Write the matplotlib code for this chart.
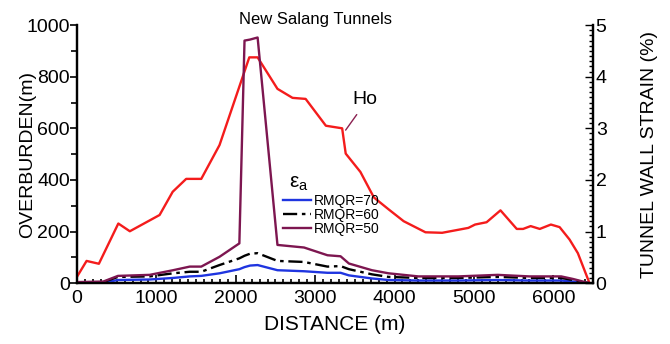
import numpy as np
import matplotlib
matplotlib.use("Agg")
from matplotlib import pyplot as plt
from matplotlib.ticker import MultipleLocator

plt.rcParams['font.family'] = ['Liberation Sans', 'DejaVu Sans']

# overburden along the tunnel (m)
ho_dist = [0, 120, 275, 520, 665, 1040, 1205, 1375, 1565, 1795, 2170, 2275, 2525, 2715, 2880,
           3135, 3340, 3385, 3570, 3740, 3925, 4115, 4390, 4600, 4930, 5015, 5160, 5335,
           5540, 5620, 5715, 5830, 5970, 6080, 6205, 6310, 6450]
ho = [25, 86, 75, 231, 201, 264, 354, 404, 404, 535, 875, 875, 753, 718, 714,
      610, 600, 502, 431, 332, 286, 240, 197, 195, 214, 227, 236, 282,
      210, 210, 221, 210, 227, 217, 169, 116, 5]

# tunnel wall strain (%) for three rock mass qualities
eps_dist = [0, 330, 515, 915, 1210, 1420, 1565, 1795, 2045, 2110, 2180, 2275, 2525, 2860,
            3155, 3320, 3425, 3715, 3925, 4300, 4800, 5300, 5700, 6100, 6250, 6450]
eps_50 = [0.02, 0.03, 0.14, 0.16, 0.25, 0.32, 0.32, 0.51, 0.77, 4.70, 4.72, 4.76, 0.74, 0.69,
          0.54, 0.52, 0.38, 0.25, 0.19, 0.13, 0.13, 0.16, 0.13, 0.13, 0.08, 0.0]
eps_60 = [0.01, 0.02, 0.12, 0.13, 0.19, 0.22, 0.22, 0.35, 0.48, 0.53, 0.57, 0.58, 0.43, 0.41,
          0.32, 0.33, 0.27, 0.17, 0.12, 0.10, 0.10, 0.12, 0.10, 0.10, 0.06, 0.0]
eps_70 = [0.0, 0.01, 0.06, 0.07, 0.10, 0.13, 0.14, 0.19, 0.27, 0.31, 0.34, 0.35, 0.25, 0.23,
          0.20, 0.20, 0.15, 0.09, 0.06, 0.05, 0.05, 0.06, 0.05, 0.05, 0.03, 0.0]

fig = plt.figure(figsize=(6.7, 3.44), dpi=100)
ax = fig.add_axes([0.115, 0.177, 0.77, 0.75])
ax2 = ax.twinx()

ax.plot(ho_dist, ho, color='#f41c1c', lw=1.7, zorder=3)
ax2.plot(eps_dist, eps_70, color='#1f35e0', lw=1.7, label='RMQR=70')
ax2.plot(eps_dist, eps_60, color='black', lw=1.7, ls=(0, (6, 2, 1.5, 2)), label='RMQR=60')
ax2.plot(eps_dist, eps_50, color='#7d1650', lw=1.7, label='RMQR=50')

ax.set_xlim(0, 6500)
ax.set_ylim(0, 1000)
ax2.set_ylim(0, 5)

ax.xaxis.set_major_locator(MultipleLocator(1000))
ax.xaxis.set_minor_locator(MultipleLocator(100))
ax.yaxis.set_major_locator(MultipleLocator(200))
ax.yaxis.set_minor_locator(MultipleLocator(100))
ax2.yaxis.set_major_locator(MultipleLocator(1))
ax2.yaxis.set_minor_locator(MultipleLocator(0.1))

ax.tick_params(axis='x', which='both', direction='in', labelsize=14, width=1.2, pad=5)
ax.tick_params(axis='x', which='major', length=6)
ax.tick_params(axis='x', which='minor', length=3)
ax.tick_params(axis='y', which='both', direction='out', labelsize=14, width=1.2)
ax.tick_params(axis='y', which='major', length=5, pad=0)
ax.tick_params(axis='y', which='minor', length=4)
ax2.tick_params(axis='y', which='both', direction='in', labelsize=14, width=1.0, pad=2)
ax2.tick_params(axis='y', which='major', length=6)
ax2.tick_params(axis='y', which='minor', length=3)

for a in (ax, ax2):
    a.spines['top'].set_visible(False)
    for s in ('left', 'right', 'bottom'):
        a.spines[s].set_linewidth(1.6)

ax.set_xlabel('DISTANCE (m)', fontsize=15, labelpad=6)
ax.set_ylabel('OVERBURDEN(m)', fontsize=14, labelpad=-7)
ax2.set_ylabel('TUNNEL WALL STRAIN (%)', fontsize=14, labelpad=25)

ax.text(3000, 1.02, 'New Salang Tunnels', transform=ax.get_xaxis_transform(),
        fontsize=12, ha='center', va='center')

# label for the overburden curve
ax.annotate('Ho', xy=(3384, 593), xytext=(3463, 710), fontsize=14,
            ha='left', va='center',
            arrowprops=dict(arrowstyle='-', color='#8a2050', lw=1.0, relpos=(0.37, 0),
                            shrinkA=3, shrinkB=0))

ax2.text(2800, 1.94, r'$\mathregular{\varepsilon_a}$', fontsize=15, ha='center', va='center')
ax2.legend(loc='upper left', bbox_to_anchor=(0.423, 0.437), bbox_transform=fig.transFigure,
           frameon=False, fontsize=10, handlelength=2.0, handletextpad=0.2,
           labelspacing=0.0, borderpad=0, borderaxespad=0)

fig.savefig('out.png', dpi=100)
